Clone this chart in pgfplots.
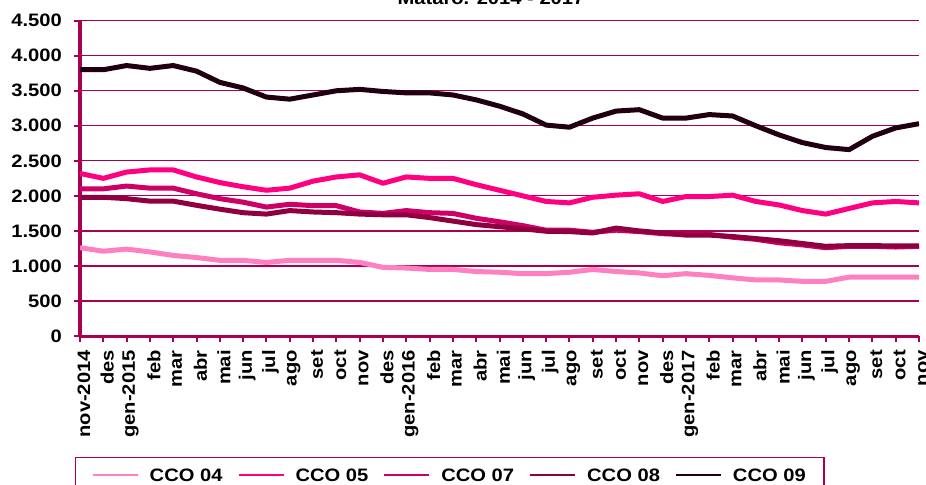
\documentclass[border=0pt]{standalone}
\usepackage{pgfplots}
\pgfplotsset{compat=1.18}
\usepackage{fontspec}
\setmainfont{Liberation Sans}[FakeStretch=1.12]
\definecolor{axiscol}{HTML}{AA0052}
\definecolor{c04}{HTML}{FF80C0}
\definecolor{c05}{HTML}{FF0080}
\definecolor{c07}{HTML}{CC0066}
\definecolor{c08}{HTML}{900040}
\definecolor{c09}{HTML}{200010}
\newcommand{\chartfont}{\fontsize{18bp}{21bp}\selectfont\bfseries}
\begin{document}
\begin{tikzpicture}
\begin{axis}[
  width=839bp, height=315.3bp, scale only axis,
  xmin=0, xmax=36, ymin=0, ymax=4500,
  xtick={0,...,36},
  xticklabels={nov-2014,des,gen-2015,feb,mar,abr,mai,jun,jul,ago,set,oct,nov,des,gen-2016,feb,mar,abr,mai,jun,jul,ago,set,oct,nov,des,gen-2017,feb,mar,abr,mai,jun,jul,ago,set,oct,nov},
  ytick={0,500,...,4500},
  /pgf/number format/.cd, 1000 sep={.}, assume math mode=true, /pgfplots/.cd,
  axis x line*=bottom, axis y line*=left,
  axis line style={-, line width=3bp, color=axiscol},
  tick align=outside, major tick length=6bp,
  tick style={line width=2bp, color=axiscol},
  ymajorgrids, major grid style={line width=1.2bp, color=axiscol},
  ticklabel style={font=\chartfont},
  xticklabel style={rotate=90, anchor=east, inner sep=0pt, xshift=-8bp, yshift=-4bp},
  yticklabel style={inner sep=0pt, xshift=-12bp},
  legend columns=5,
  legend style={at={(rel axis cs:0,0)}, xshift=-5bp, yshift=-120.7bp, anchor=north west,
    draw=axiscol, line width=1.5bp, font=\chartfont, inner xsep=16bp, inner ysep=9bp,
    /tikz/every odd column/.append style={column sep=9bp},
    /tikz/every even column/.append style={column sep=13bp}},
  legend image code/.code={\draw[#1, line width=2bp] (0bp,0bp) -- (45bp,0bp);},
  every axis plot/.append style={line width=5bp, line join=round},
]
\addplot[c04] coordinates {
(0,1260)(1,1210)(2,1240)(3,1200)(4,1150)(5,1120)(6,1080)(7,1080)(8,1050)(9,1080)(10,1080)(11,1080)(12,1050)
(13,980)(14,970)(15,950)(16,950)(17,920)(18,910)(19,890)(20,890)(21,910)(22,950)(23,920)(24,900)
(25,860)(26,890)(27,865)(28,830)(29,800)(30,800)(31,780)(32,780)(33,840)(34,840)(35,840)(36,840)};
\addlegendentry{CCO 04}
\addplot[c05] coordinates {
(0,2320)(1,2250)(2,2340)(3,2370)(4,2370)(5,2270)(6,2190)(7,2130)(8,2080)(9,2110)(10,2210)(11,2270)(12,2300)
(13,2180)(14,2270)(15,2250)(16,2250)(17,2160)(18,2080)(19,2000)(20,1920)(21,1900)(22,1980)(23,2010)(24,2030)
(25,1920)(26,1990)(27,1990)(28,2010)(29,1920)(30,1870)(31,1790)(32,1740)(33,1820)(34,1900)(35,1920)(36,1900)};
\addlegendentry{CCO 05}
\addplot[c07] coordinates {
(0,2100)(1,2100)(2,2140)(3,2110)(4,2110)(5,2030)(6,1960)(7,1910)(8,1840)(9,1880)(10,1860)(11,1860)(12,1770)
(13,1750)(14,1790)(15,1760)(16,1750)(17,1680)(18,1630)(19,1575)(20,1510)(21,1510)(22,1480)(23,1510)(24,1490)
(25,1460)(26,1450)(27,1450)(28,1410)(29,1380)(30,1330)(31,1300)(32,1260)(33,1280)(34,1280)(35,1270)(36,1280)};
\addlegendentry{CCO 07}
\addplot[c08] coordinates {
(0,1980)(1,1980)(2,1960)(3,1925)(4,1925)(5,1865)(6,1810)(7,1760)(8,1740)(9,1790)(10,1770)(11,1760)(12,1740)
(13,1730)(14,1730)(15,1690)(16,1640)(17,1590)(18,1560)(19,1530)(20,1495)(21,1490)(22,1470)(23,1540)(24,1500)
(25,1470)(26,1440)(27,1440)(28,1420)(29,1390)(30,1360)(31,1320)(32,1280)(33,1290)(34,1290)(35,1285)(36,1285)};
\addlegendentry{CCO 08}
\addplot[c09] coordinates {
(0,3800)(1,3800)(2,3860)(3,3820)(4,3860)(5,3780)(6,3620)(7,3540)(8,3410)(9,3380)(10,3440)(11,3500)(12,3520)
(13,3490)(14,3470)(15,3470)(16,3440)(17,3370)(18,3280)(19,3170)(20,3010)(21,2980)(22,3110)(23,3210)(24,3230)
(25,3110)(26,3110)(27,3160)(28,3140)(29,3000)(30,2870)(31,2760)(32,2690)(33,2660)(34,2850)(35,2970)(36,3030)};
\addlegendentry{CCO 09}
\end{axis}
\node[anchor=base, font=\chartfont, inner sep=0pt] at (411bp,331.5bp) {Mataró. 2014 - 2017};
\pgfresetboundingbox
\useasboundingbox (-80bp,-149bp) rectangle (846bp,336bp);
\end{tikzpicture}
\end{document}
